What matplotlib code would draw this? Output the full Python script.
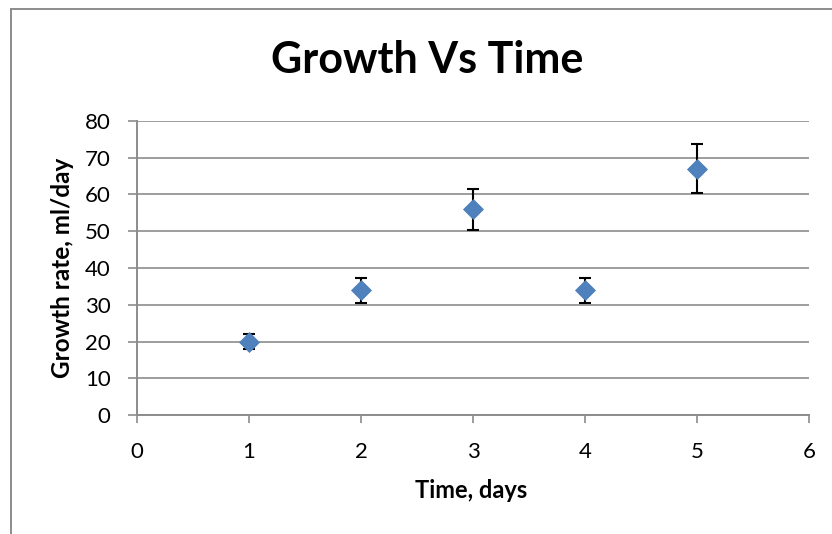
import numpy as np
import matplotlib.pyplot as plt
from matplotlib.lines import Line2D

plt.rcParams['font.family'] = ['Lato', 'DejaVu Sans']

days = [1, 2, 3, 4, 5]
growth = [20, 34, 56, 34, 67]
err = [2.0, 3.4, 5.6, 3.4, 6.7]

W, H = 832, 534
fig = plt.figure(figsize=(W / 100, H / 100), dpi=100)
ax = fig.add_axes([137 / W, 1 - 415 / H, (809 - 137) / W, (415 - 121) / H])

gray = '#8c8c8c'

# outer chart frame (only left and top edges visible)
fig.add_artist(Line2D([11 / W, 11 / W], [0, 1 - 9 / H], color=gray, lw=1.4))
fig.add_artist(Line2D([11 / W, 1], [1 - 9 / H, 1 - 9 / H], color=gray, lw=1.4))

ax.errorbar(days, growth, yerr=err, fmt='none', ecolor='black',
            elinewidth=1.5, capsize=4.3, capthick=1.5, zorder=3)
ax.plot(days, growth, linestyle='none', marker='D', markersize=10.5,
        color='#4f81bd', markeredgecolor='#4a7ab5', markeredgewidth=0.5, zorder=4)

ax.set_xlim(0, 6)
ax.set_ylim(0, 80)
ax.set_xticks(range(0, 7))
ax.set_yticks(range(0, 81, 10))
ax.yaxis.grid(True, color=gray, lw=1.2)
ax.set_axisbelow(True)

for s in ['top', 'right']:
    ax.spines[s].set_visible(False)
for s in ['left', 'bottom']:
    ax.spines[s].set_color(gray)
    ax.spines[s].set_linewidth(1.4)

ax.tick_params(axis='y', length=6.5, width=1.2, color=gray, pad=12.5, labelsize=16)
ax.tick_params(axis='x', length=6, width=1.2, color=gray, pad=13.5, labelsize=16)

fig.text(427 / W, 1 - 73 / H, 'Growth Vs Time', ha='center', va='baseline',
         fontsize=31, fontweight='bold')
fig.text(471 / W, 1 - 498 / H, 'Time, days', ha='center', va='baseline',
         fontsize=17, fontweight='bold')
fig.text(63 / W, 1 - 268 / H, 'Growth rate, ml/day', ha='center', va='center',
         rotation=90, fontsize=17.5, fontweight='bold')

fig.savefig('out.png', dpi=100)
